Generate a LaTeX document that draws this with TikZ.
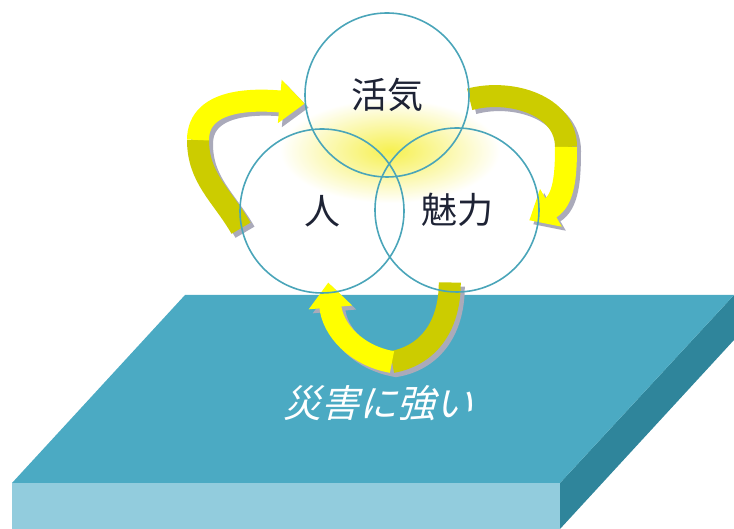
\documentclass[tikz,border=0pt]{standalone}
\usepackage{fontspec}
\usepackage{xcolor}
\usepackage{tikz}
\newfontfamily\jpfont{Noto Sans CJK JP}
\newfontfamily\jpslant[FakeSlant=0.25]{Noto Sans CJK JP}
\usetikzlibrary{arrows.meta}
\definecolor{slabtop}{RGB}{75,170,195}
\definecolor{slabfront}{RGB}{146,204,221}
\definecolor{slabside}{RGB}{47,133,155}
\definecolor{ringline}{RGB}{74,165,185}
\definecolor{inkblue}{RGB}{30,35,53}
\definecolor{ribbonyellow}{RGB}{255,255,0}
\definecolor{ribbonolive}{RGB}{204,204,0}
\definecolor{shadowgray}{RGB}{170,170,186}
\definecolor{glow}{RGB}{246,240,80}
\pgfdeclarelayer{bg}
\pgfdeclarelayer{mid}
\pgfsetlayers{bg,mid,main}

\begin{document}
\begin{tikzpicture}[x=1pt,y=1pt,
    ring/.style={circle, draw=ringline, line width=1.6pt, minimum size=164pt, inner sep=0pt,
      font=\jpfont\fontsize{36}{36}\selectfont, text=inkblue},
    ribbon/.style={line width=22pt},
    head/.style={-{Triangle[width=42pt,length=25pt]}},
    ribbonshadow/.style={ribbon, head, shadowgray, transform canvas={xshift=4pt,yshift=-4pt}}]
        \useasboundingbox (0,0) rectangle (734,529);

        % the three circles
        \node[ring] (kakki) at (387,434) {活気};
        \node[ring] (ren) at (322,318) {人};
        \node[ring] (miryoku) at (457,319) {魅力};
        \node[font=\jpslant\fontsize{38}{38}\selectfont, text=white] (motto) at (378,126) {災害に強い};

        \begin{pgfonlayer}{bg}
        \fill[slabfront] (12,0) rectangle (560,46);
        \fill[slabside] (560,0) -- (734,189) -- (734,234) -- (560,46) -- cycle;
        \fill[slabtop] (12,46) -- (560,46) -- (734,234) -- (185,234) -- cycle;
        \shade[inner color=glow, outer color=white] (280,326) rectangle (500,430);
        \end{pgfonlayer}

        \begin{pgfonlayer}{mid}
        \coordinate (lmid) at (198,389);
        \coordinate (rmid) at (566,382);
        \coordinate (bmid) at (392,167);
        % shadows
        \draw[ribbonshadow] (ren.192) to[out=120,in=-90] (lmid) to[out=90,in=175] (kakki.186);
        \draw[ribbonshadow, shorten >=-12pt] (kakki.-3) to[out=15,in=90] (rmid) to[out=-90,in=30] (miryoku.-3);
        \draw[ribbonshadow, shorten <=-10pt, shorten >=-11pt] (miryoku.265) to[out=-90,in=10] (bmid) to[out=170,in=-85] (ren.-85);
        % ribbons
        \draw[ribbon, ribbonolive] (ren.192) to[out=120,in=-90] (lmid);
        \draw[ribbon, head, ribbonyellow] (lmid) to[out=90,in=175] (kakki.186);
        \draw[ribbon, ribbonolive] (kakki.-3) to[out=15,in=90] (rmid);
        \draw[ribbon, head, ribbonyellow, shorten >=-12pt] (rmid) to[out=-90,in=30] (miryoku.-3);
        \draw[ribbon, ribbonolive, shorten <=-10pt] (miryoku.265) to[out=-90,in=10] (bmid);
        \draw[ribbon, head, ribbonyellow, shorten >=-11pt] (bmid) to[out=170,in=-85] (ren.-85);
        \end{pgfonlayer}
\end{tikzpicture}
\end{document}
